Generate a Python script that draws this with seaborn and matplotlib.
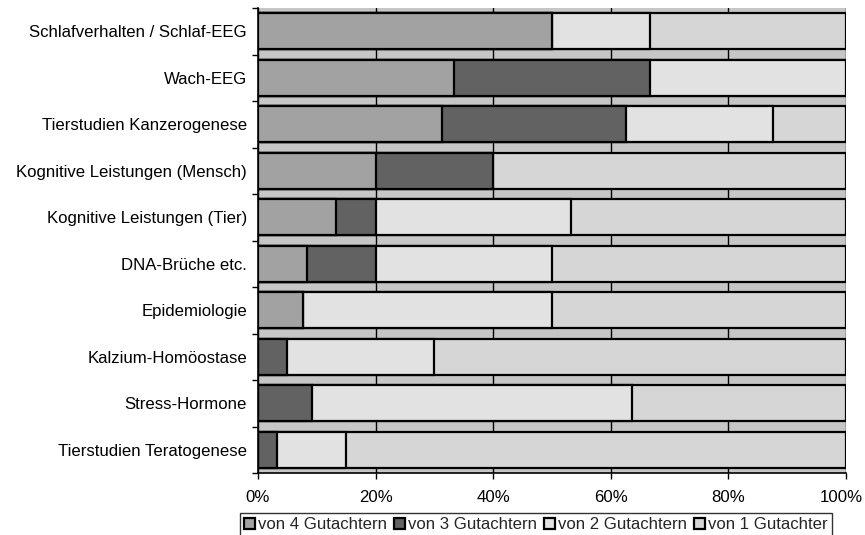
import matplotlib
matplotlib.use("Agg")
import matplotlib.pyplot as plt
import matplotlib.transforms as mtransforms
import seaborn as sns
import numpy as np
import pandas as pd
from matplotlib.ticker import FixedLocator, PercentFormatter

categories = [
    "Schlafverhalten / Schlaf-EEG",
    "Wach-EEG",
    "Tierstudien Kanzerogenese",
    "Kognitive Leistungen (Mensch)",
    "Kognitive Leistungen (Tier)",
    "DNA-Brüche etc.",
    "Epidemiologie",
    "Kalzium-Homöostase",
    "Stress-Hormone",
    "Tierstudien Teratogenese",
]
von4 = [50.0, 33.3, 31.25, 20.0, 13.3, 8.3, 7.7, 0.0, 0.0, 0.0]
von3 = [0.0, 33.3, 31.25, 20.0, 6.7, 11.7, 0.0, 5.0, 9.1, 3.3]
von2 = [16.7, 33.4, 25.0, 0.0, 33.3, 30.0, 42.3, 25.0, 54.5, 11.7]
von1 = [33.3, 0.0, 12.5, 60.0, 46.7, 50.0, 50.0, 70.0, 36.4, 85.0]
series_names = ["von 4 Gutachtern", "von 3 Gutachtern", "von 2 Gutachtern", "von 1 Gutachter"]
series_colors = ["#a2a2a2", "#626262", "#e2e2e2", "#d6d6d6"]
xticks = [0, 20, 40, 60, 80, 100]

sns.set_theme(style="white")
plt.rcParams["font.family"] = ["Liberation Sans", "DejaVu Sans"]

fig = plt.figure(figsize=(8.65, 5.35), dpi=100)
ax = fig.add_axes([258 / 865, 1 - 473 / 535, (846 - 258) / 865, (473 - 8) / 535])

data = np.array([von4, von3, von2, von1])
cum = np.cumsum(data, axis=0)

for i in range(3, -1, -1):
    df = pd.DataFrame({"cat": categories, "val": cum[i]})
    sns.barplot(data=df, x="val", y="cat", orient="h", color=series_colors[i],
                saturation=1, edgecolor="black", linewidth=1.6, width=0.78,
                label=series_names[i], ax=ax, zorder=2)

ax.set_facecolor("#c6c6c6")
ax.set_xlim(0, 100)
ax.set_ylim(len(categories) - 0.5, -0.5)
ax.set_xlabel("")
ax.set_ylabel("")
ax.xaxis.set_major_locator(FixedLocator(xticks))
ax.xaxis.set_major_formatter(PercentFormatter(decimals=0))
ax.grid(axis="x", color="black", linewidth=1.0, zorder=0)
ax.grid(axis="y", visible=False)
ax.set_axisbelow(True)

for s in ["top", "right"]:
    ax.spines[s].set_visible(False)
for s in ["left", "bottom"]:
    ax.spines[s].set_color("black")
    ax.spines[s].set_linewidth(1.2)

fs = 12.1
ax.tick_params(axis="x", direction="out", length=4, width=1, color="black",
               pad=8, labelsize=fs, labelcolor="black", bottom=True)
ax.tick_params(axis="y", which="major", length=0, pad=8, labelsize=fs, labelcolor="black", left=True)
ax.yaxis.set_minor_locator(FixedLocator(np.arange(-0.5, len(categories), 1.0)))
ax.tick_params(axis="y", which="minor", direction="out", length=4, width=1, color="black", left=True)

fig.canvas.draw()
last = ax.get_xticklabels()[-1]
last.set_transform(last.get_transform() + mtransforms.ScaledTranslation(-5 / 100, 0, fig.dpi_scale_trans))

h, l = ax.get_legend_handles_labels()
order = [l.index(n) for n in series_names]
leg = ax.legend([h[k] for k in order], [l[k] for k in order], ncol=4,
                loc="upper center", bbox_to_anchor=(536 / 865, 1 - 513 / 535),
                bbox_transform=fig.transFigure, frameon=True, fancybox=False,
                edgecolor="black", fontsize=fs, handlelength=0.6, handleheight=0.6,
                handletextpad=0.2, columnspacing=0.45, borderpad=0.25, borderaxespad=0)
leg.get_frame().set_linewidth(1.0)

fig.savefig("out.png", dpi=100)
